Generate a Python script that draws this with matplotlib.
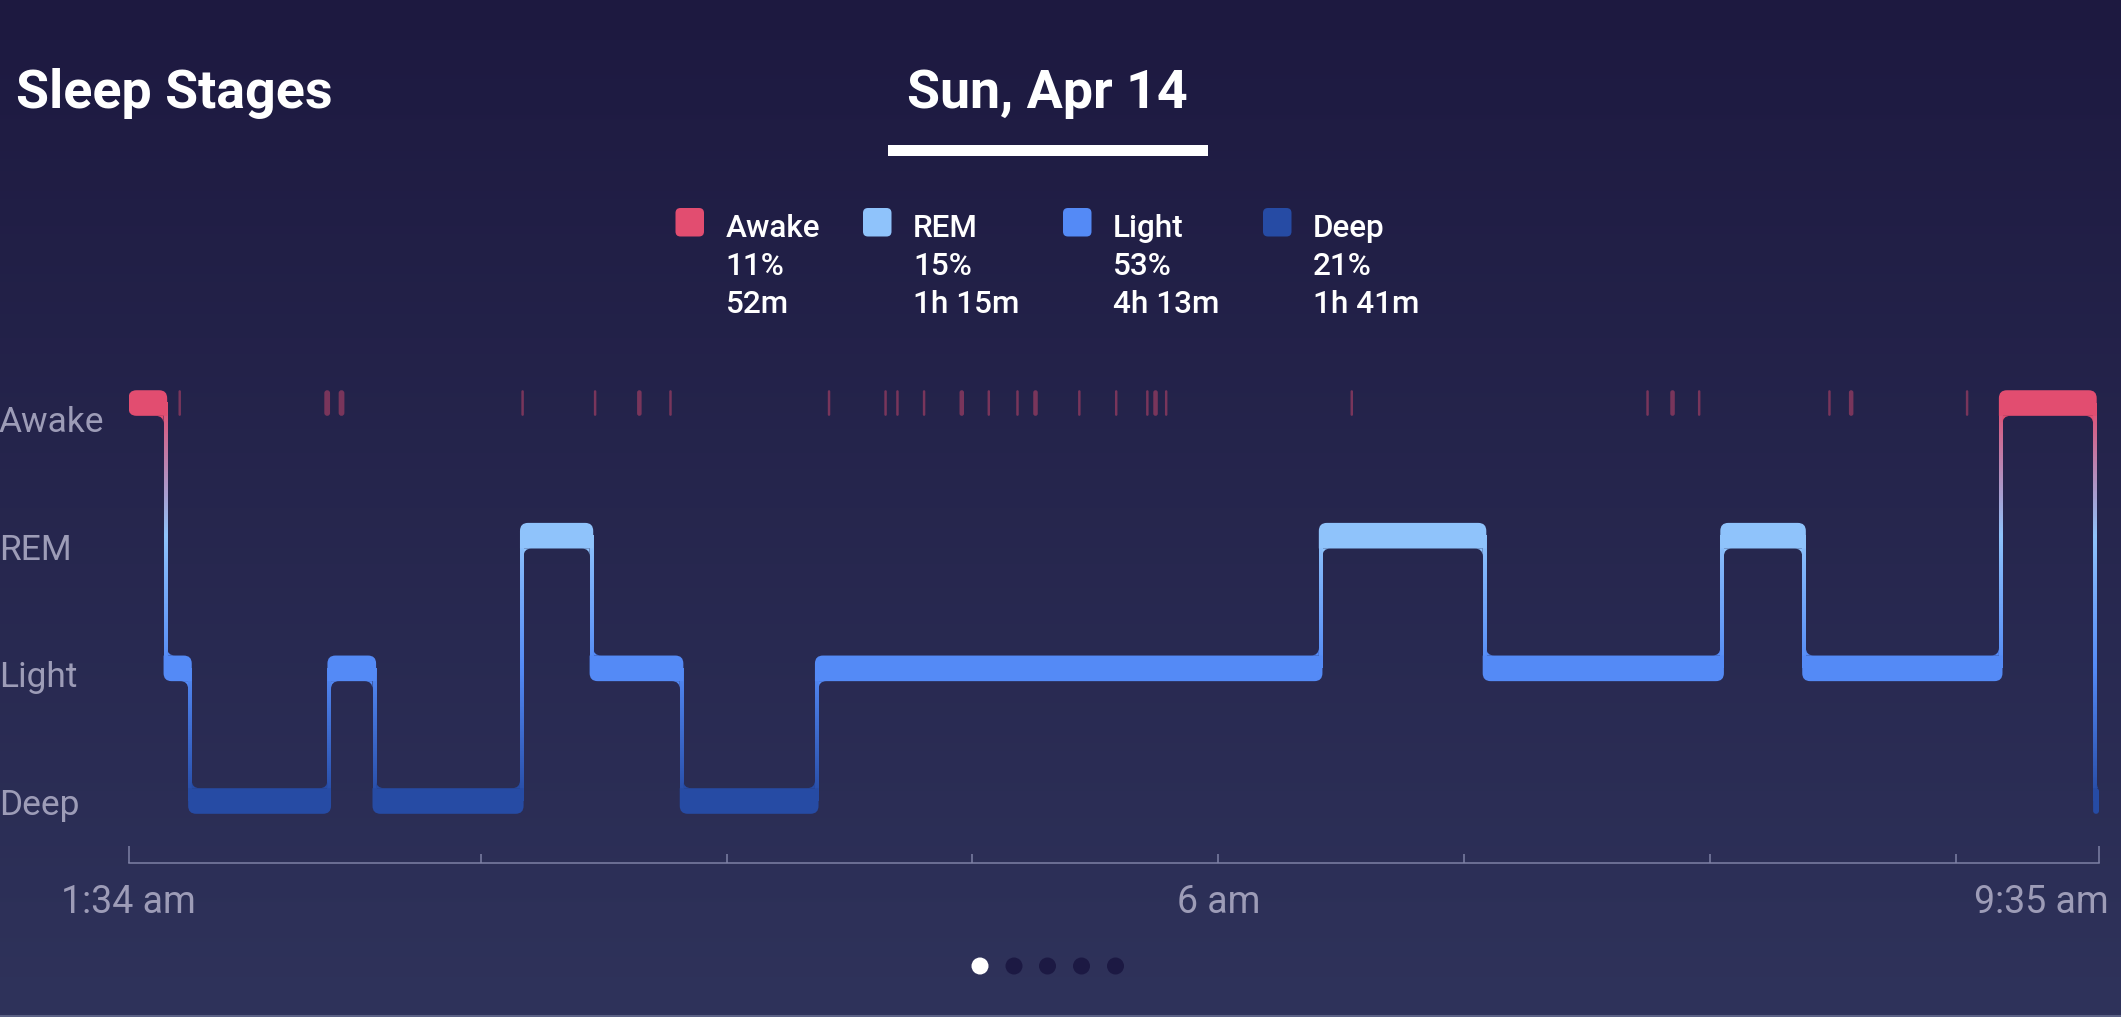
import numpy as np
import matplotlib.pyplot as plt
from matplotlib.path import Path
from matplotlib.patches import PathPatch, FancyBboxPatch, Circle, Rectangle
from matplotlib.colors import LinearSegmentedColormap

plt.rcParams['font.family'] = ['Roboto', 'DejaVu Sans']

# ---- data ----
stage_names = ['Deep', 'Light', 'REM', 'Awake']          # level 0..3
stage_colors = ['#264ba4', '#548af6', '#8fc3fb', '#e24d70']

start_clock = '1:34'
end_clock = '9:35'

# start time of each stage segment
seg_start = ['1:34', '1:43', '1:49', '2:23', '2:34', '3:10', '3:27', '3:49', '4:22',
             '6:25', '7:05', '8:03', '8:23', '9:11', '9:34']
seg_stage = ['Awake', 'Light', 'Deep', 'Light', 'Deep', 'REM', 'Light', 'Deep', 'Light',
             'REM', 'Light', 'REM', 'Light', 'Awake', 'Deep']

# short awakenings (minutes after 1:34, centre and length in minutes)
wake_mid = [12.5, 48.5, 52.0, 96.2, 113.9, 124.7, 132.3, 171.0, 184.8, 187.7, 194.2,
            203.4, 210.0, 217.0, 221.4, 232.1, 241.1, 248.7, 250.7, 253.3, 298.6,
            370.8, 376.9, 383.4, 415.2, 420.5, 448.8]
wake_len = [0.6, 1.4, 1.4, 0.6, 0.6, 1.1, 0.6, 0.6, 0.6, 0.6, 0.6,
            1.1, 0.6, 0.6, 1.1, 0.6, 0.6, 0.6, 1.1, 0.6, 0.6,
            0.6, 1.1, 0.6, 0.6, 1.1, 0.6]

legend_names = ['Awake', 'REM', 'Light', 'Deep']
legend_pct = ['11%', '15%', '53%', '21%']
legend_dur = ['52m', '1h 15m', '4h 13m', '1h 41m']

hour_ticks = ['3:00', '4:00', '5:00', '6:00', '7:00', '8:00', '9:00']
x_labels = [('1:34', '1:34 am'), ('6:00', '6 am'), ('9:35', '9:35 am')]


def clock_min(s):
    h, m = s.split(':')
    h0, m0 = start_clock.split(':')
    return (int(h) * 60 + int(m)) - (int(h0) * 60 + int(m0))


seg_t = [clock_min(s) for s in seg_start]
seg_lvl = [stage_names.index(s) for s in seg_stage]
t_end = clock_min(end_clock)

W, H = 2121, 1017
fig = plt.figure(figsize=(W / 100, H / 100), dpi=100)

# background gradient
bg = fig.add_axes([0, 0, 1, 1], zorder=-10)
bg_cmap = LinearSegmentedColormap.from_list('bg', ['#1d1940', '#2f335b'])
bg.imshow(np.linspace(0, 1, 256)[:, None], cmap=bg_cmap, aspect='auto',
          extent=[0, 1, 0, 1], origin='upper')
bg.axis('off')

# main chart axes
ax = fig.add_axes([128.5 / W, (H - 863) / H, (2099 - 128.5) / W, (863 - 336.7) / H])
ax.patch.set_alpha(0)
y_lo, y_hi = -0.4673, 3.5
ax.set_xlim(0, t_end)
ax.set_ylim(y_lo, y_hi)

ppm = ax.get_position().width * W / t_end          # pixels per minute
ppl = ax.get_position().height * H / (y_hi - y_lo)  # pixels per level

hh = 12.8 / ppl       # half band thickness
w = 3.6 / ppm         # connector width
r_px = 8.0            # corner radius in pixels


def round_box(x0, x1, y0, y1, corners, r):
    # corners: bottom-left, bottom-right, top-right, top-left
    r = min(r, (x1 - x0) * ppm / 2, (y1 - y0) * ppl / 2)
    rx, ry = r / ppm, r / ppl
    bl, br, tr, tl = corners
    V, C = [], []
    V.append((x0 + rx, y0) if bl else (x0, y0)); C.append(Path.MOVETO)
    if br:
        V += [(x1 - rx, y0), (x1, y0), (x1, y0 + ry)]; C += [Path.LINETO, Path.CURVE3, Path.CURVE3]
    else:
        V.append((x1, y0)); C.append(Path.LINETO)
    if tr:
        V += [(x1, y1 - ry), (x1, y1), (x1 - rx, y1)]; C += [Path.LINETO, Path.CURVE3, Path.CURVE3]
    else:
        V.append((x1, y1)); C.append(Path.LINETO)
    if tl:
        V += [(x0 + rx, y1), (x0, y1), (x0, y1 - ry)]; C += [Path.LINETO, Path.CURVE3, Path.CURVE3]
    else:
        V.append((x0, y1)); C.append(Path.LINETO)
    if bl:
        V += [(x0, y0 + ry), (x0, y0), (x0 + rx, y0)]; C += [Path.LINETO, Path.CURVE3, Path.CURVE3]
    else:
        V.append((x0, y0)); C.append(Path.LINETO)
    V.append(V[0]); C.append(Path.CLOSEPOLY)
    return Path(V, C)


def fillet(cx, cy, dx, dy):
    # concave corner fill at (cx, cy); dx, dy signed sizes in data units
    V = [(cx, cy), (cx + dx, cy), (cx, cy), (cx, cy + dy), (cx, cy)]
    C = [Path.MOVETO, Path.LINETO, Path.CURVE3, Path.CURVE3, Path.CLOSEPOLY]
    return Path(V, C)


stage_cmap = LinearSegmentedColormap.from_list('stages', stage_colors)
n = len(seg_t)

# connectors with vertical colour gradient
for i in range(1, n):
    t = seg_t[i]
    lo, hi = sorted((seg_lvl[i - 1], seg_lvl[i]))
    ys = np.linspace(lo, hi, 300)
    img = stage_cmap(ys / 3.0)[:, None, :]
    ax.imshow(img, extent=[t - w / 2, t + w / 2, lo, hi], origin='lower',
              aspect='auto', interpolation='bilinear', zorder=2)

    # fillets where connector meets the bands
    a, b = seg_lvl[i - 1], seg_lvl[i]
    fx, fy = r_px / ppm, r_px / ppl
    prev_len = t - seg_t[i - 1]
    next_len = (seg_t[i + 1] if i + 1 < n else t_end) - t
    if a > b:   # going down: upper band is previous, lower band is next
        up_c, up_col, lo_c, lo_col = (t - w / 2, hi - hh), stage_colors[a], (t + w / 2, lo + hh), stage_colors[b]
        up_dx, lo_dx = -min(fx, prev_len / 2), min(fx, next_len / 2)
    else:
        up_c, up_col, lo_c, lo_col = (t + w / 2, hi - hh), stage_colors[b], (t - w / 2, lo + hh), stage_colors[a]
        up_dx, lo_dx = min(fx, next_len / 2), -min(fx, prev_len / 2)
    ax.add_patch(PathPatch(fillet(up_c[0], up_c[1], up_dx, -fy), fc=up_col, ec='none', zorder=3))
    ax.add_patch(PathPatch(fillet(lo_c[0], lo_c[1], lo_dx, fy), fc=lo_col, ec='none', zorder=3))

# stage bands
for i in range(n):
    c = seg_lvl[i]
    x0 = max(0, seg_t[i] - w / 2)
    x1 = min(t_end, (seg_t[i + 1] if i + 1 < n else t_end) + w / 2)
    if i == 0:
        bl = tl = True
    else:
        p = seg_lvl[i - 1]
        bl, tl = (True, False) if p > c else (False, True)
    if i == n - 1:
        br = tr = True
    else:
        q = seg_lvl[i + 1]
        br, tr = (True, False) if q > c else (False, True)
    path = round_box(x0, x1, c - hh, c + hh, (bl, br, tr, tl), r_px)
    ax.add_patch(PathPatch(path, fc=stage_colors[c], ec='none', zorder=3))

# short awakenings
for m, d in zip(wake_mid, wake_len):
    lv = stage_names.index('Awake')
    path = round_box(m - d / 2, m + d / 2, lv - hh, lv + hh, (True,) * 4, r_px)
    ax.add_patch(PathPatch(path, fc=stage_colors[lv], alpha=0.45, ec='none', zorder=1.5))

# x axis
axis_col = '#7e81a5'
label_col = '#9d9cb7'
for s in ['left', 'top', 'right']:
    ax.spines[s].set_visible(False)
ax.spines['bottom'].set_color(axis_col)
ax.spines['bottom'].set_linewidth(1.1)
ax.set_yticks([])
ax.set_xticks([clock_min(h) for h in hour_ticks])
ax.set_xticks([0, t_end], minor=True)
ax.tick_params(axis='x', which='major', direction='in', length=6.5, width=1.1,
               color=axis_col, labelbottom=False)
ax.tick_params(axis='x', which='minor', direction='in', length=12.2, width=1.1,
               color=axis_col, labelbottom=False)
for clk, lab in x_labels:
    xm = clock_min(clk)
    ha = 'right' if xm == t_end else 'center'
    dx = 10 if xm == t_end else 0
    ax.annotate(lab, xy=(xm, y_lo), xytext=(dx, -50.3), textcoords='offset pixels',
                ha=ha, va='baseline', fontsize=27, color=label_col,
                annotation_clip=False)

# overlay in pixel coordinates for titles / legend / pager
ov = fig.add_axes([0, 0, 1, 1], zorder=5)
ov.set_xlim(0, W)
ov.set_ylim(H, 0)
ov.axis('off')
ov.patch.set_alpha(0)

# stage labels on the left
for lv, name in enumerate(stage_names):
    ov.text(-1, 432.3 + 127.6 * (3 - lv), name, fontsize=25.5, color=label_col,
            ha='left', va='baseline')

ov.text(16, 108, 'Sleep Stages', fontsize=38.7, fontweight='bold', color='white',
        ha='left', va='baseline')
ov.text(1047, 108, 'Sun, Apr 14', fontsize=38.7, fontweight='bold', color='white',
        ha='center', va='baseline')
ov.add_patch(Rectangle((887.7, 145), 320.3, 10.5, fc='white', ec='none'))

# legend
sq_x = [675.5, 863, 1063, 1263]
for k, name in enumerate(legend_names):
    col = stage_colors[stage_names.index(name)]
    ov.add_patch(FancyBboxPatch((sq_x[k], 208), 28.5, 28.5,
                                boxstyle='round,pad=0,rounding_size=5', fc=col, ec='none'))
    tx = sq_x[k] + 50
    for row, txt in enumerate([name, legend_pct[k], legend_dur[k]]):
        ov.text(tx, 236.7 + 38.2 * row, txt, fontsize=22.7, fontweight='medium',
                color='white', ha='left', va='baseline')

# pager dots
for k, px in enumerate([980, 1014, 1047.5, 1081.5, 1115.5]):
    ov.add_patch(Circle((px, 966), 8.5, fc='white' if k == 0 else '#1c1943', ec='none'))

ov.add_patch(Rectangle((0, 1015), W, 2, fc='#5b6185', ec='none'))

fig.savefig('out.png', dpi=100)
